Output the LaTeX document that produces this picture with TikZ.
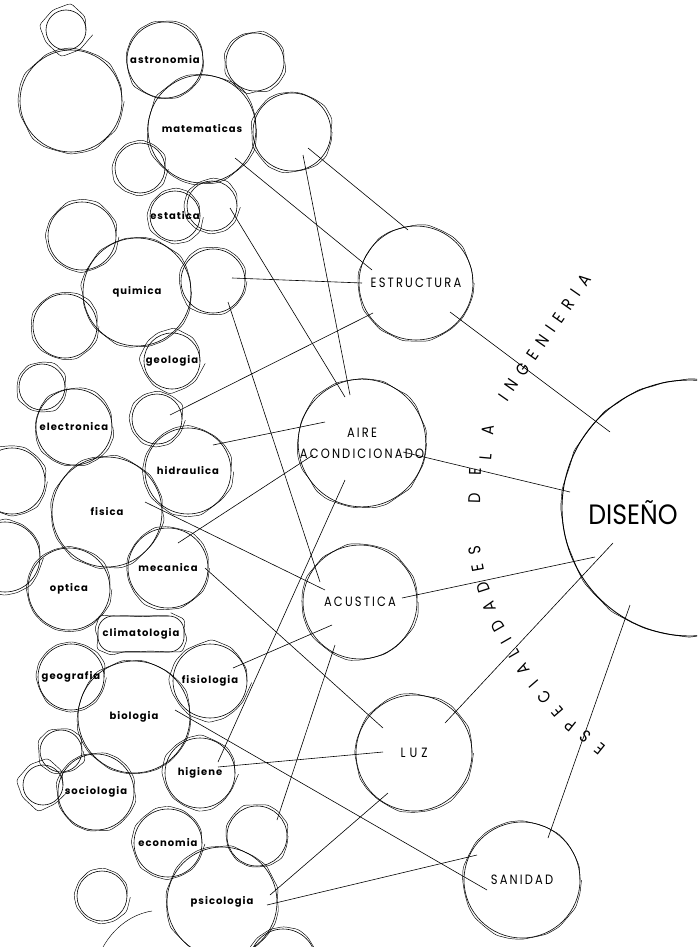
\documentclass[tikz,border=0pt]{standalone}
\usepackage{fontspec}
\newfontfamily\lowfont[LetterSpace=10]{Poppins}
\newfontfamily\capfont[LetterSpace=16,FakeStretch=0.85]{Poppins}
\newfontfamily\bigfont[FakeStretch=0.9]{Poppins}
\usetikzlibrary{positioning, calc, decorations.pathmorphing, decorations.text}
\tikzstyle{bubble} = [circle, draw=black, line width=0.6pt, inner sep=0pt, text centered,
  font=\lowfont\bfseries\fontsize{10}{11}\selectfont,
  postaction={decorate, draw=black, line width=0.45pt, rounded corners=3pt,
    decoration={random steps, segment length=13pt, amplitude=1.4pt}}]
\tikzstyle{field} = [bubble, font=\capfont\fontsize{13.5}{16}\selectfont, align=center]
\tikzstyle{link} = [line width=0.6pt]
\tikzstyle{curved} = [decorate, decoration={text along path, text align=fit to path,
  text={|\capfont\fontsize{17}{17}\selectfont|#1}}]

\begin{document}
\begin{tikzpicture}[x=1pt, y=-1pt]
    \pgfmathsetseed{4242}
    \useasboundingbox (0,0) rectangle (697,947);
    \clip (0,0) rectangle (697,947);

    % Ciencias basicas
    \node[bubble, minimum size=40] (tl) at (66,30) {};
    \node[bubble, minimum size=102] (bl) at (71,101) {};
    \node[bubble, minimum size=76] (astro) at (165,60) {astronomia};
    \node[bubble, minimum size=58] (tr) at (255,62) {};
    \node[bubble, minimum size=108] (mat) at (202,129) {matematicas};
    \node[bubble, minimum size=78] (rmat) at (292,132) {};
    \node[bubble, minimum size=50] (lest) at (140,168) {};
    \node[bubble, minimum size=46] (estat) at (175,216) {estatica};
    \node[bubble, minimum size=50] (bmat) at (212,206) {};
    \node[bubble, minimum size=68] (lq1) at (82,236) {};
    \node[bubble, minimum size=108] (quim) at (137,292) {quimica};
    \node[bubble, minimum size=64] (rq) at (213,281) {};
    \node[bubble, minimum size=64] (lq2) at (65,326) {};
    \node[bubble, minimum size=56] (geol) at (172,361) {geologia};
    \node[bubble, minimum size=46] (le) at (42,387) {};
    \node[bubble, minimum size=76] (elec) at (74,427) {electronica};
    \node[bubble, minimum size=50] (ah) at (157,419) {};
    \node[bubble, minimum size=86] (hidr) at (188,471) {hidraulica};
    \node[bubble, minimum size=66] (pl1) at (12,481) {};
    \node[bubble, minimum size=110] (fis) at (107,512) {fisica};
    \node[bubble, minimum size=70] (pl2) at (5,557) {};
    \node[bubble, minimum size=80] (mec) at (168,568) {mecanica};
    \node[bubble, minimum size=82] (opt) at (69,589) {optica};
    \node[bubble, rectangle, rounded corners=15pt, minimum width=86, minimum height=36] (clim) at (141,634) {climatologia};
    \node[bubble, minimum size=66] (geog) at (71,677) {geografia};
    \node[bubble, minimum size=74] (fisio) at (210,681) {fisiologia};
    \node[bubble, minimum size=112] (bio) at (134,717) {biologia};
    \node[bubble, minimum size=42] (s1) at (61,751) {};
    \node[bubble, minimum size=40] (s2) at (43,785) {};
    \node[bubble, minimum size=76] (soc) at (96,792) {sociologia};
    \node[bubble, minimum size=70] (hig) at (200,773) {higiene};
    \node[bubble, minimum size=68] (econ) at (168,843) {economia};
    \node[bubble, minimum size=60] (recon) at (257,836) {};
    \node[bubble, minimum size=50] (s3) at (102,896) {};
    \node[bubble, minimum size=110] (psic) at (222,902) {psicologia};
    \node[bubble, minimum size=66] (pb) at (283,962) {};
    \draw[line width=0.45pt] (103,947) .. controls (115,926) and (133,914) .. (152,911);

    % Especialidades
    \node[field, minimum size=114] (est) at (416,283) {ESTRUCTURA};
    \node[field, minimum size=120] (aire) at (362,443) {AIRE\\[5pt]ACONDICIONADO};
    \node[field, minimum size=114] (acu) at (360,602) {ACUSTICA};
    \node[field, minimum size=116] (luz) at (414,753) {L\hspace{4pt}U\hspace{4pt}Z};
    \node[field, minimum size=116] (san) at (522,880) {SANIDAD};

    % Diseno
    \node[bubble, line width=0.9pt, minimum size=256] (dis) at (690,508) {};
    \node[font=\bigfont\fontsize{28}{28}\selectfont] (disl) at (633,513) {DISEÑO};

    % Conexiones
    \draw[link] ($(mat)+(33,29)$) -- ($(est)+(-44,-13)$);
    \draw[link] ($(rmat)+(16,16)$) -- ($(est)+(-8,-53)$);
    \draw[link] ($(rmat)+(11,23)$) -- ($(aire)+(-12,-48)$);
    \draw[link] ($(bmat)+(18,2)$) -- ($(aire)+(-17,-46)$);
    \draw[link] ($(rq)+(19,-3)$) -- ($(est)+(-54,0)$);
    \draw[link] ($(rq)+(15,21)$) -- ($(acu)+(-40,-20)$);
    \draw[link] ($(est)+(-43,30)$) -- ($(ah)+(13,-4)$);
    \draw[link] ($(est)+(34,29)$) -- ($(dis)+(-80,-76)$);
    \draw[link] ($(aire)+(-37,-21)$) -- ($(hidr)+(25,-26)$);
    \draw[link] ($(aire)+(-49,12)$) -- ($(mec)+(10,-25)$);
    \draw[link] ($(aire)+(-17,37)$) -- ($(hig)+(18,-11)$);
    \draw[link] ($(aire)+(41,9)$) -- ($(dis)+(-120,-16)$);
    \draw[link] ($(fis)+(38,-10)$) -- ($(acu)+(-35,-12)$);
    \draw[link] ($(mec)+(37,0)$) -- ($(luz)+(-31,-25)$);
    \draw[link] ($(fisio)+(23,-13)$) -- ($(acu)+(-28,23)$);
    \draw[link] ($(acu)+(-25,43)$) -- ($(recon)+(20,-16)$);
    \draw[link] ($(acu)+(42,-4)$) -- ($(dis)+(-95,49)$);
    \draw[link] ($(luz)+(31,-30)$) -- ($(dis)+(-77,35)$);
    \draw[link] ($(hig)+(18,-6)$) -- ($(luz)+(-31,-1)$);
    \draw[link] ($(bio)+(41,-7)$) -- ($(san)+(-35,10)$);
    \draw[link] ($(psic)+(48,-7)$) -- ($(luz)+(-26,40)$);
    \draw[link] ($(psic)+(45,3)$) -- ($(san)+(-45,-25)$);
    \draw[link] ($(san)+(26,-42)$) -- ($(dis)+(-60,97)$);

    % Rotulos curvos
    \path[curved=DE] (480,503) -- (481,468);
    \path[curved=LA] (491,460) -- (494,426);
    \path[curved=INGENIERIA] (507,402) -- (592,280);
    \path[curved=ESPECIALIDADES] (606,746) -- (570,717) -- (532,673) -- (498,614) -- (486,577) -- (480,545);
\end{tikzpicture}
\end{document}
